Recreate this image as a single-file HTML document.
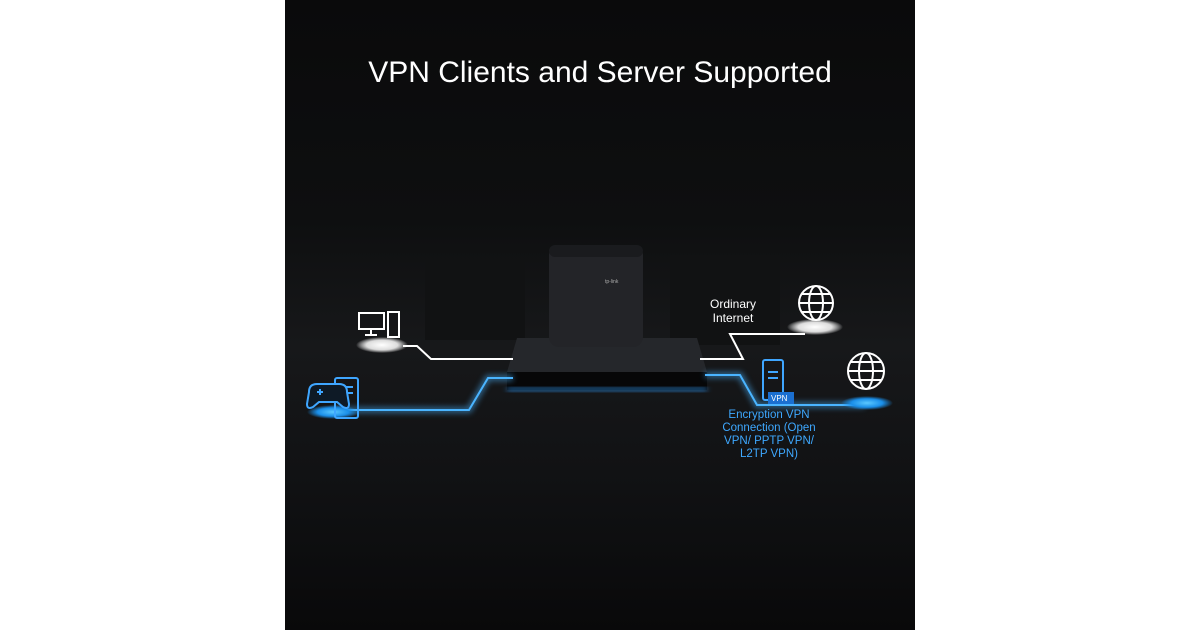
<!DOCTYPE html>
<html><head><style>
body{margin:0;width:1200px;height:630px;background:#fff;overflow:hidden;font-family:"Liberation Sans",sans-serif}
#p{position:absolute;left:285px;top:0;width:630px;height:630px;background:linear-gradient(#0a0a0b 0%,#0e0f10 35%,#17181a 55%,#111214 75%,#09090a 100%);overflow:hidden}
.t{position:absolute;color:#fff}
</style></head><body>
<div id="p">
<div class="t" style="left:0;width:630px;top:56px;text-align:center;font-size:30px">VPN Clients and Server Supported</div>
<svg width="630" height="630" style="position:absolute;left:0;top:0">
<defs>
<filter id="g" x="-50%" y="-50%" width="200%" height="200%"><feGaussianBlur stdDeviation="3"/></filter>
<radialGradient id="wp"><stop offset="0" stop-color="#fff"/><stop offset="0.6" stop-color="#ddd"/><stop offset="1" stop-color="#fff" stop-opacity="0"/></radialGradient>
<radialGradient id="bp"><stop offset="0" stop-color="#5bc8ff"/><stop offset="0.6" stop-color="#1a8ee8"/><stop offset="1" stop-color="#1a8ee8" stop-opacity="0"/></radialGradient>
</defs>
<rect x="140" y="260" width="100" height="80" fill="#111213"/>
<rect x="385" y="255" width="110" height="90" fill="#111213"/>
<polygon points="232,338 412,338 422,372 222,372" fill="#25272b"/>
<rect x="222" y="372" width="200" height="18" fill="#070708"/>
<rect x="222" y="388" width="200" height="3" fill="#2a86d8" filter="url(#g)"/>
<rect x="264" y="245" width="94" height="102" rx="10" fill="#232428"/>
<rect x="264" y="245" width="94" height="12" rx="6" fill="#1a1b1e"/>
<text x="320" y="283" fill="#aaa" font-size="5">tp-link</text>
<polyline points="118,346 132,346 146,359 228,359" fill="none" stroke="#fff" stroke-width="2"/>
<polyline points="415,359 458,359 445,334 520,334" fill="none" stroke="#fff" stroke-width="2"/>
<g stroke="#4ab4ff" fill="none">
<polyline points="48,410 184,410 203,378 228,378" stroke-width="6" opacity="0.5" filter="url(#g)"/>
<polyline points="48,410 184,410 203,378 228,378" stroke-width="2"/>
<polyline points="420,375 455,375 472,405 580,405" stroke-width="6" opacity="0.5" filter="url(#g)"/>
<polyline points="420,375 455,375 472,405 580,405" stroke-width="2"/>
</g>
<ellipse cx="97" cy="345" rx="26" ry="8" fill="url(#wp)"/>
<ellipse cx="530" cy="327" rx="28" ry="8" fill="url(#wp)"/>
<ellipse cx="48" cy="412" rx="26" ry="7" fill="url(#bp)"/>
<ellipse cx="582" cy="403" rx="26" ry="7" fill="url(#bp)"/>
<g stroke="#fff" stroke-width="2" fill="none">
<rect x="74" y="313" width="25" height="16"/><line x1="86" y1="329" x2="86" y2="335"/><line x1="80" y1="335" x2="92" y2="335"/>
<rect x="103" y="312" width="11" height="25"/>
</g>
<g stroke="#fff" stroke-width="2" fill="none">
<circle cx="531" cy="303" r="17"/><ellipse cx="531" cy="303" rx="7" ry="17"/><line x1="514" y1="303" x2="548" y2="303"/><line x1="517" y1="294" x2="545" y2="294"/><line x1="517" y1="312" x2="545" y2="312"/>
<circle cx="581" cy="371" r="18"/><ellipse cx="581" cy="371" rx="7" ry="18"/><line x1="563" y1="371" x2="599" y2="371"/><line x1="566" y1="362" x2="596" y2="362"/><line x1="566" y1="380" x2="596" y2="380"/>
</g>
<g stroke="#3fa6ff" stroke-width="2" fill="none">
<rect x="50" y="378" width="23" height="40" rx="2"/><line x1="55" y1="387" x2="68" y2="387"/><line x1="55" y1="393" x2="68" y2="393"/>
<path d="M24,392 q0,-8 8,-8 h22 q8,0 8,8 l2,12 q0,6 -6,3 l-6,-5 h-18 l-6,5 q-6,3 -6,-3z" fill="#0e1a26"/>
<line x1="32" y1="392" x2="38" y2="392"/><line x1="35" y1="389" x2="35" y2="395"/>
</g>
<g stroke="#3fa6ff" stroke-width="2" fill="none">
<rect x="478" y="360" width="20" height="40" rx="2"/><line x1="483" y1="372" x2="493" y2="372"/><line x1="483" y1="378" x2="493" y2="378"/>
</g>
<rect x="483" y="392" width="26" height="12" fill="#1b6fd0"/>
<text x="486" y="401" fill="#fff" font-size="8">VPN</text>
</svg>
<div class="t" style="left:425px;top:297px;font-size:12px;line-height:14px;text-align:center">Ordinary<br>Internet</div>
<div class="t" style="left:432px;top:409px;width:104px;font-size:11.5px;line-height:13px;text-align:center;color:#3ea8ff">Encryption VPN Connection (Open VPN/ PPTP VPN/ L2TP VPN)</div>
</div>
</body></html>
